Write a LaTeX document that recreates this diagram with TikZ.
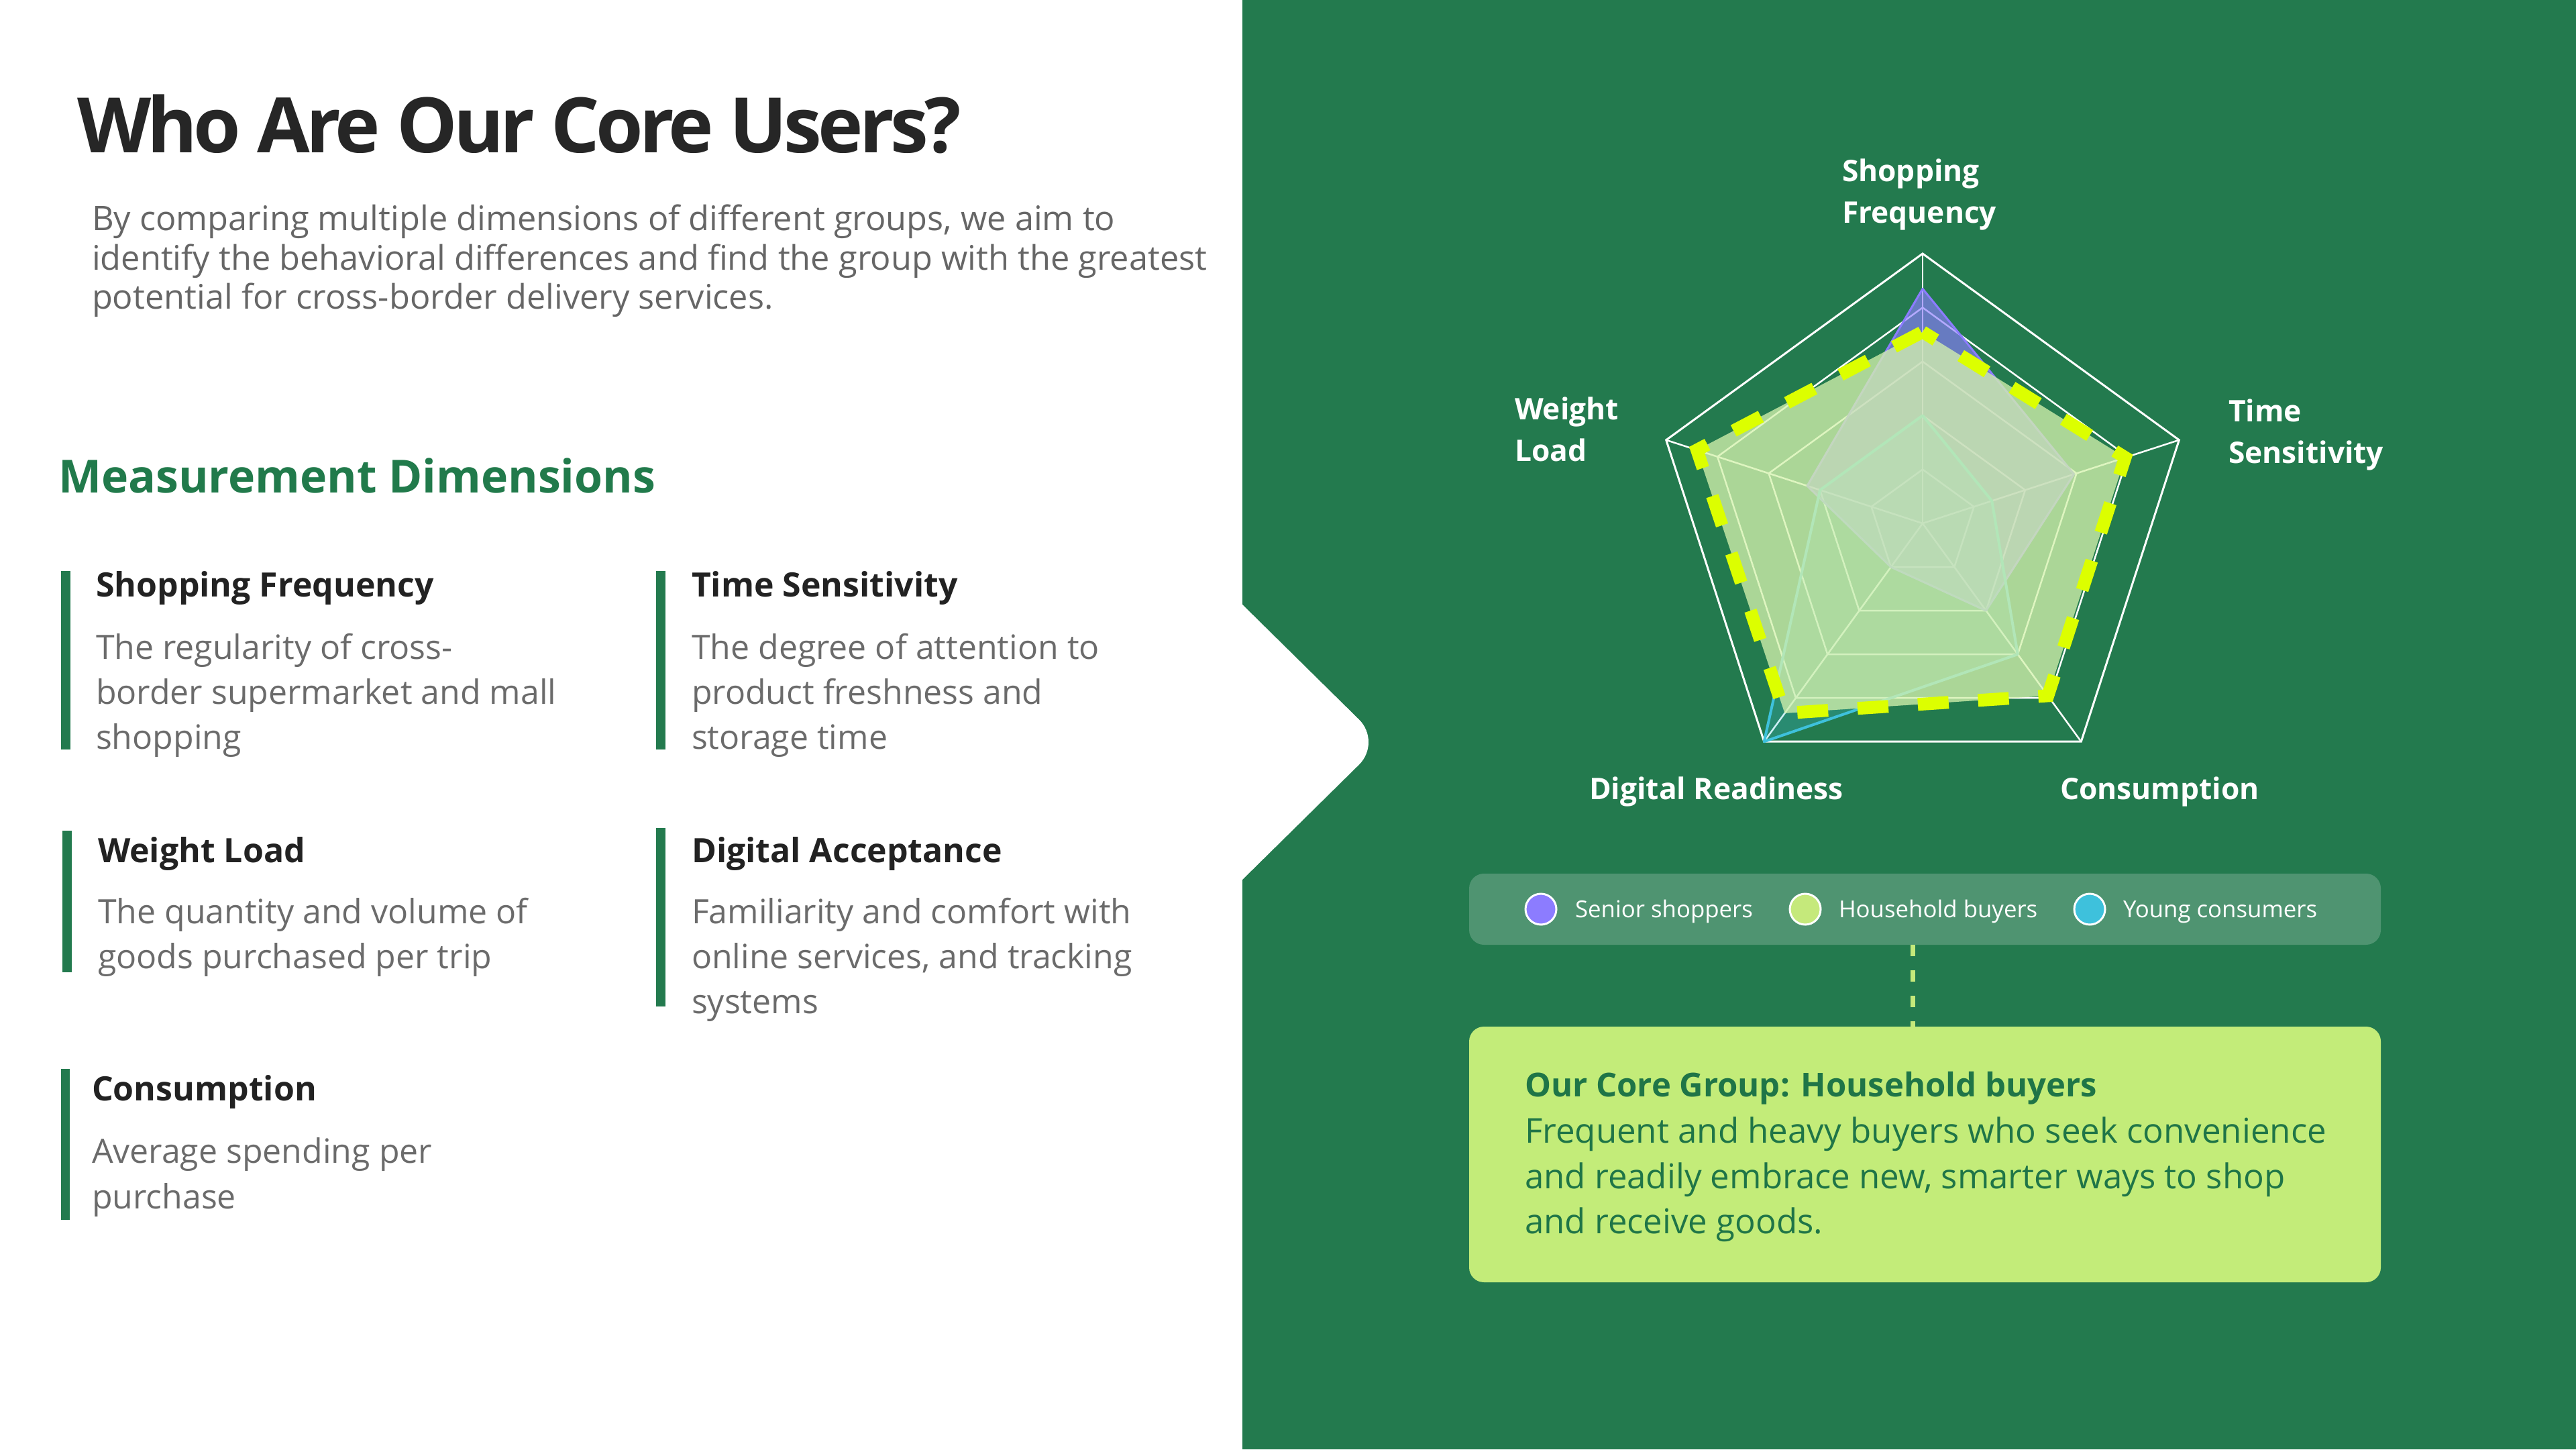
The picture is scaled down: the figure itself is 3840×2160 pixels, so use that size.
\documentclass[tikz,border=0pt]{standalone}
\usepackage{fontspec}
\setmainfont{Open Sans}
\newfontfamily\titlefont[LetterSpace=-5]{Open Sans}
\usetikzlibrary{calc}
\definecolor{panelgreen}{HTML}{237A4E}
\definecolor{darktxt}{HTML}{262626}
\definecolor{subgray}{HTML}{666666}
\definecolor{bodygray}{HTML}{6B6B6B}
\definecolor{cardtitle}{HTML}{222222}
\definecolor{headgreen}{HTML}{217A4B}
\definecolor{seniorc}{HTML}{8C7CFF}
\definecolor{househ}{HTML}{C5E97B}
\definecolor{housefill}{HTML}{D5F2AE}
\definecolor{youngc}{HTML}{3EC1DC}
\definecolor{limedash}{HTML}{DCFF00}
\definecolor{coreboxc}{HTML}{C3EC79}
\definecolor{coretxtc}{HTML}{1F7547}
\begin{document}
\begin{tikzpicture}[x=1pt,y=-1pt,
  txt/.style={inner sep=0pt, outer sep=0pt, anchor=base west},
  subtxt/.style={txt, text=subgray, font=\fontsize{50.5}{60}\selectfont},
  cardhead/.style={txt, text=cardtitle, font=\fontsize{50}{60}\selectfont\bfseries},
  cardbody/.style={txt, text=bodygray, font=\fontsize{50}{60}\selectfont},
  cardbar/.style={fill=panelgreen, draw=none},
  axislab/.style={txt, text=white, font=\fontsize{44.3}{53}\selectfont\bfseries},
  legdot/.style={circle, minimum size=46pt, inner sep=0pt, draw=white, line width=3pt},
  legtxt/.style={txt, text=white, font=\fontsize{34.8}{42}\selectfont},
  corehead/.style={txt, text=coretxtc, font=\fontsize{49}{59}\selectfont\bfseries},
  corebody/.style={txt, text=coretxtc, font=\fontsize{51}{61}\selectfont},
  radargrid/.style={draw=white, line width=2.5pt},
  panelbox/.style={inner sep=0pt, outer sep=0pt, rounded corners=22pt, minimum width=1359pt},
]
\useasboundingbox (0,0) rectangle (3840,2160);
% backgrounds
\fill[white] (0,0) rectangle (3840,2160);
\fill[panelgreen] (1852,0) rectangle (3840,2160);
\fill[white] (1840,901) -- (1852,901) [rounded corners=48pt] -- (2060,1106) [sharp corners] -- (1852,1311) -- (1840,1311) -- cycle;

% left: heading
\node[txt, text=darktxt, font=\titlefont\fontsize{114}{136}\selectfont\bfseries] (title) at (115,227) {Who Are Our Core Users?};
\node[subtxt] (sub1) at (137,343) {By comparing multiple dimensions of different groups, we aim to};
\node[subtxt] (sub2) at (137,402) {identify the behavioral differences and find the group with the greatest};
\node[subtxt] (sub3) at (137,460) {potential for cross-border delivery services.};
\node[txt, text=headgreen, font=\fontsize{68}{82}\selectfont\bfseries] (mhead) at (87,734) {Measurement Dimensions};

% card 1
\fill[cardbar] (91,851) rectangle (105,1117);
\node[cardhead] (c1h) at (143,889) {Shopping Frequency};
\node[cardbody] (c1a) at (143,982) {The regularity of cross-};
\node[cardbody] (c1b) at (143,1049) {border supermarket and mall};
\node[cardbody] (c1c) at (143,1116) {shopping};
% card 2
\fill[cardbar] (978,851) rectangle (992,1117);
\node[cardhead] (c2h) at (1031,889) {Time Sensitivity};
\node[cardbody] (c2a) at (1031,982) {The degree of attention to};
\node[cardbody] (c2b) at (1031,1049) {product freshness and};
\node[cardbody] (c2c) at (1031,1116) {storage time};
% card 3
\fill[cardbar] (93,1238) rectangle (107,1449);
\node[cardhead] (c3h) at (146,1285) {Weight Load};
\node[cardbody] (c3a) at (146,1376) {The quantity and volume of};
\node[cardbody] (c3b) at (146,1443) {goods purchased per trip};
% card 4
\fill[cardbar] (978,1234) rectangle (992,1500);
\node[cardhead] (c4h) at (1031,1285) {Digital Acceptance};
\node[cardbody] (c4a) at (1031,1376) {Familiarity and comfort with};
\node[cardbody] (c4b) at (1031,1443) {online services, and tracking};
\node[cardbody] (c4c) at (1031,1510) {systems};
% card 5
\fill[cardbar] (91,1593) rectangle (104,1818);
\node[cardhead] (c5h) at (137,1640) {Consumption};
\node[cardbody] (c5a) at (137,1733) {Average spending per};
\node[cardbody] (c5b) at (137,1801) {purchase};

% radar chart
\begin{scope}[shift={(2866,780)}, x=1pt, y=1pt]
  \coordinate (rc) at (0,0);
  \foreach \l in {0.2,0.4,0.6,0.8}
    \draw[radargrid] (90:{402*\l}) -- (18:{402*\l}) -- (-54:{402*\l}) -- (-126:{402*\l}) -- (162:{402*\l}) -- cycle;
  \foreach \a in {90,18,-54,-126,162}
    \draw[radargrid] (rc) -- (\a:402);
  \draw[draw=white, line width=3pt, line join=miter] (90:402) -- (18:402) -- (-54:402) -- (-126:402) -- (162:402) -- cycle;
  % senior shoppers
  \filldraw[fill=seniorc, fill opacity=0.65, draw=seniorc, line width=3pt, line join=round]
    (90:{402*0.87}) -- (18:{402*0.59}) -- (-54:{402*0.4}) -- (-126:{402*0.2}) -- (162:{402*0.45}) -- cycle;
  % young consumers
  \filldraw[fill=youngc, fill opacity=0.25, draw=youngc, line width=4pt, line join=round]
    (90:{402*0.4}) -- (18:{402*0.27}) -- (-54:{402*0.6}) -- (-126:{402*1.0}) -- (162:{402*0.4}) -- cycle;
  % household buyers
  \fill[housefill, fill opacity=0.77]
    (90:{402*0.71}) -- (18:{402*0.79}) -- (-54:{402*0.79}) -- (-126:{402*0.87}) -- (162:{402*0.88}) -- cycle;
  \draw[limedash, line width=19pt, dash pattern=on 46pt off 44pt, dash phase=23pt, line join=miter]
    (90:{402*0.71}) -- (18:{402*0.79}) -- (-54:{402*0.79}) -- (-126:{402*0.87}) -- (162:{402*0.88}) -- cycle;
\end{scope}

% axis labels
\node[axislab] (labsf1) at (2746,270) {Shopping};
\node[axislab] (labsf2) at (2746,332) {Frequency};
\node[axislab] (labwl1) at (2258,625) {Weight};
\node[axislab] (labwl2) at (2258,687) {Load};
\node[axislab] (labts1) at (3322,628) {Time};
\node[axislab] (labts2) at (3322,690) {Sensitivity};
\node[axislab] (labdr) at (2369,1191) {Digital Readiness};
\node[axislab] (labco) at (3071,1191) {Consumption};

% legend
\node[panelbox, fill=white, fill opacity=0.2, minimum height=106pt] (legend) at (2869.5,1355) {};
\node[legdot, fill=seniorc] (ld1) at (2297,1355) {};
\node[legtxt] (lt1) at (2348,1367) {Senior shoppers};
\node[legdot, fill=househ] (ld2) at (2691,1355) {};
\node[legtxt] (lt2) at (2741,1367) {Household buyers};
\node[legdot, fill=youngc] (ld3) at (3115,1355) {};
\node[legtxt] (lt3) at (3165,1367) {Young consumers};

% core group box
\node[panelbox, fill=coreboxc, minimum height=381pt] (core) at (2869.5,1720.5) {};
\coordinate (cx) at (2851,0);
\draw[househ, line width=7pt, dash pattern=on 17pt off 21pt] (legend.south -| cx) -- (core.north -| cx);
\node[corehead] (coreh) at (2273,1634) {Our Core Group: Household buyers};
\node[corebody] (cb1) at (2273,1703) {Frequent and heavy buyers who seek convenience};
\node[corebody] (cb2) at (2273,1771) {and readily embrace new, smarter ways to shop};
\node[corebody] (cb3) at (2273,1838) {and receive goods.};
\end{tikzpicture}
\end{document}
